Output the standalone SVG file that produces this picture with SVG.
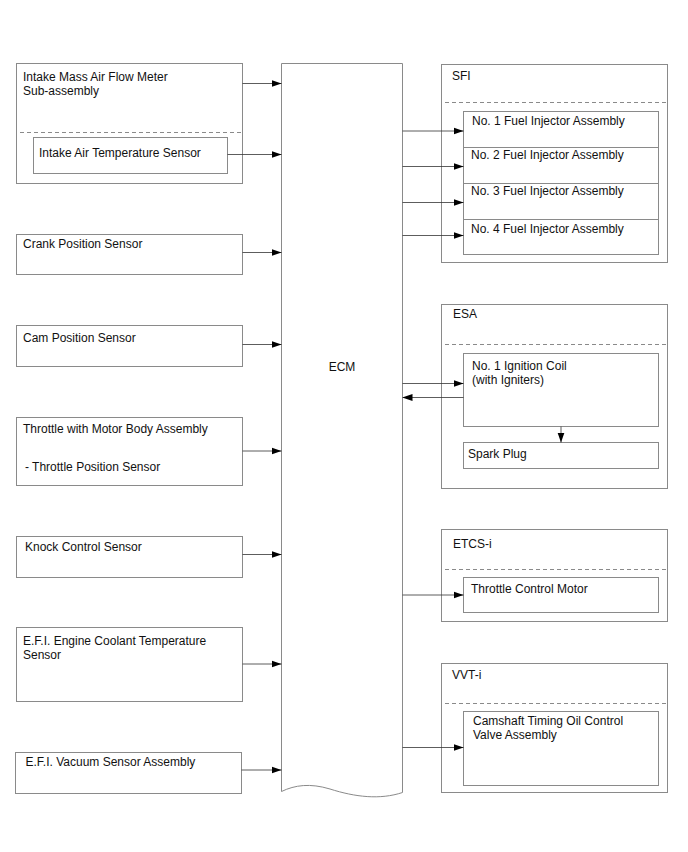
<svg xmlns="http://www.w3.org/2000/svg" width="688" height="852" viewBox="0 0 688 852">
<style>
.box{fill:#fff;stroke:#8a8a8a;stroke-width:1}
.dash{stroke:#8a8a8a;stroke-width:1;stroke-dasharray:4,3;fill:none}
.ln{stroke:#333;stroke-width:0.8;fill:none;marker-end:url(#ah)}
text{font-family:"Liberation Sans",Arial,sans-serif;font-size:12px;fill:#111}
</style>
<defs>
<marker id="ah" viewBox="0 0 10 8" refX="10" refY="4" markerWidth="10" markerHeight="8" markerUnits="userSpaceOnUse" orient="auto">
<path d="M0,0.5 L10,4 L0,7.5 Z" fill="#000"/>
</marker>
</defs>
<rect width="688" height="852" fill="#fff"/>

<g id="maf">
<rect class="box" x="16.5" y="63.5" width="226" height="120"/>
<text x="23" y="80.5">Intake Mass Air Flow Meter</text>
<text x="23" y="94.5">Sub-assembly</text>
<line class="dash" x1="20" y1="132.5" x2="242" y2="132.5"/>
</g>
<g id="iat">
<rect class="box" x="33.5" y="137.5" width="194" height="36"/>
<text x="39" y="156.5">Intake Air Temperature Sensor</text>
</g>
<g id="crank">
<rect class="box" x="16.5" y="234.5" width="226" height="40"/>
<text x="23" y="247.5">Crank Position Sensor</text>
</g>
<g id="cam">
<rect class="box" x="16.5" y="325.5" width="226" height="41"/>
<text x="23" y="341.5">Cam Position Sensor</text>
</g>
<g id="throttle">
<rect class="box" x="16.5" y="417.5" width="226" height="68"/>
<text x="23" y="432.5">Throttle with Motor Body Assembly</text>
<text x="25" y="471">- Throttle Position Sensor</text>
</g>
<g id="knock">
<rect class="box" x="16.5" y="536.5" width="226" height="41"/>
<text x="25" y="550.5">Knock Control Sensor</text>
</g>
<g id="coolant">
<rect class="box" x="16.5" y="627.5" width="226" height="74"/>
<text x="23" y="645">E.F.I. Engine Coolant Temperature</text>
<text x="23" y="658.5">Sensor</text>
</g>
<g id="vacuum">
<rect class="box" x="15.5" y="752.5" width="226" height="41"/>
<text x="25.5" y="766">E.F.I. Vacuum Sensor Assembly</text>
</g>

<g id="ecm">
<path class="box" d="M281.5,63.5 H402.5 V792.5 C380,800 355,797 330,789 C310,783 295,785 281.5,791.5 Z"/>
<text x="342" y="371" text-anchor="middle">ECM</text>
</g>

<g id="sfi">
<rect class="box" x="441.5" y="64.5" width="226" height="198"/>
<text x="452" y="80">SFI</text>
<line class="dash" x1="445" y1="102.5" x2="667" y2="102.5"/>
</g>
<g id="inj1"><rect class="box" x="463.5" y="111.5" width="195" height="36"/><text x="472" y="124.5">No. 1 Fuel Injector Assembly</text></g>
<g id="inj2"><rect class="box" x="463.5" y="147.5" width="195" height="36"/><text x="471" y="158.5">No. 2 Fuel Injector Assembly</text></g>
<g id="inj3"><rect class="box" x="463.5" y="183.5" width="195" height="36"/><text x="471" y="194.5">No. 3 Fuel Injector Assembly</text></g>
<g id="inj4"><rect class="box" x="463.5" y="219.5" width="195" height="35"/><text x="471" y="233">No. 4 Fuel Injector Assembly</text></g>

<g id="esa">
<rect class="box" x="441.5" y="304.5" width="226" height="184"/>
<text x="453" y="317.5">ESA</text>
<line class="dash" x1="445" y1="344.5" x2="667" y2="344.5"/>
</g>
<g id="coil"><rect class="box" x="463.5" y="353.5" width="195" height="73"/><text x="472" y="370">No. 1 Ignition Coil</text><text x="472" y="384">(with Igniters)</text></g>
<g id="spark"><rect class="box" x="463.5" y="442.5" width="195" height="26"/><text x="468" y="458">Spark Plug</text></g>

<g id="etcs">
<rect class="box" x="441.5" y="529.5" width="226" height="92"/>
<text x="453" y="547.5">ETCS-i</text>
<line class="dash" x1="445" y1="569.5" x2="667" y2="569.5"/>
</g>
<g id="tcm"><rect class="box" x="463.5" y="577.5" width="195" height="35"/><text x="471" y="592.5">Throttle Control Motor</text></g>

<g id="vvt">
<rect class="box" x="441.5" y="663.5" width="226" height="129"/>
<text x="452" y="678.5">VVT-i</text>
<line class="dash" x1="445" y1="703.5" x2="667" y2="703.5"/>
</g>
<g id="ocv"><rect class="box" x="463.5" y="711.5" width="195" height="74"/><text x="473" y="725">Camshaft Timing Oil Control</text><text x="473" y="738.5">Valve Assembly</text></g>

<g id="connectors">
<line class="ln" x1="242.5" y1="83.5" x2="281.5" y2="83.5"/>
<line class="ln" x1="227.5" y1="154.5" x2="281.5" y2="154.5"/>
<line class="ln" x1="242.5" y1="252.5" x2="281.5" y2="252.5"/>
<line class="ln" x1="242.5" y1="344.5" x2="281.5" y2="344.5"/>
<line class="ln" x1="242.5" y1="451" x2="281.5" y2="451"/>
<line class="ln" x1="242.5" y1="554.5" x2="281.5" y2="554.5"/>
<line class="ln" x1="242.5" y1="664" x2="281.5" y2="664"/>
<line class="ln" x1="241.5" y1="770" x2="281.5" y2="770"/>
<line class="ln" x1="402.5" y1="131" x2="463.5" y2="131"/>
<line class="ln" x1="402.5" y1="166.5" x2="463.5" y2="166.5"/>
<line class="ln" x1="402.5" y1="202.5" x2="463.5" y2="202.5"/>
<line class="ln" x1="402.5" y1="235.5" x2="463.5" y2="235.5"/>
<line class="ln" x1="402.5" y1="383.5" x2="463.5" y2="383.5"/>
<line class="ln" x1="463.5" y1="397.5" x2="402.5" y2="397.5"/>
<line class="ln" x1="561" y1="426.5" x2="561" y2="442.5"/>
<line class="ln" x1="402.5" y1="595" x2="463.5" y2="595"/>
<line class="ln" x1="402.5" y1="747.5" x2="463.5" y2="747.5"/>
</g>
</svg>
